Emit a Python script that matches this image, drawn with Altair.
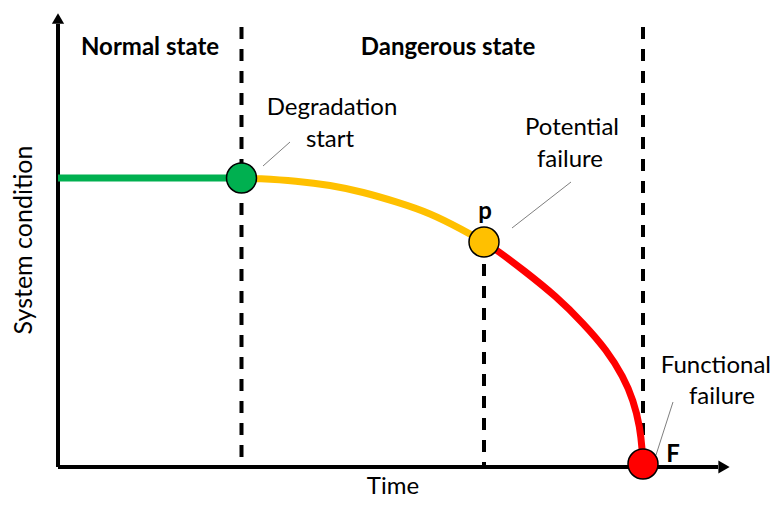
import altair as alt
import pandas as pd

# ---- data (time / condition units) ----
green_t = [0.0, 18.35]
green_c = [28.9, 28.9]
yellow_t = [18.35, 19.9, 23.9, 27.2, 30.5, 33.9, 37.2, 40.5, 42.6]
yellow_c = [28.9, 28.85, 28.6, 28.2, 27.5, 26.5, 25.4, 23.7, 22.5]
red_t = [42.6, 43.87, 46.53, 49.87, 52.53, 54.87, 56.53, 57.53, 58.2, 58.45, 58.5]
red_c = [22.5, 21.7, 19.7, 17.03, 14.37, 11.7, 9.03, 6.7, 4.03, 1.4, 0.3]

point_names = ["Degradation start", "Potential failure", "Functional failure"]
point_t = [18.35, 42.6, 58.5]
point_c = [28.9, 22.5, 0.3]

dash_t = [18.35, 42.6, 58.5]
dash_top = [44.0, 22.5, 44.0]

axis_end_t = 66.0
axis_end_c = 44.3

bold_labels = ["Normal state", "Dangerous state", "p", "F"]
bold_t = [9.2, 39.0, 42.7, 61.5]
bold_c = [41.9, 41.9, 25.5, 1.2]

reg_labels = ["Degradation", "start", "Potential", "failure", "failure"]
reg_t = [27.4, 27.2, 51.4, 51.2, 66.4]
reg_c = [35.9, 32.7, 33.9, 30.7, 7.0]

right_labels = ["Functional"]
right_t = [71.3]
right_c = [10.1]

bottom_labels = ["Time"]
bottom_t = [33.5]
bottom_c = [-2.65]

leader_t = [20.5, 45.4, 59.8]
leader_c = [30.1, 23.9, 1.2]
leader_t2 = [23.2, 51.3, 61.5]
leader_c2 = [32.5, 28.5, 6.5]

# ---- scales ----
xs = alt.Scale(domain=[-5.0, 71.4], nice=False, zero=False)
ys = alt.Scale(domain=[-3.2, 45.9], nice=False, zero=False)
FONT = "Lato"

def X(f="t"):
    return alt.X(f"{f}:Q", scale=xs, axis=None)

def Y(f="c"):
    return alt.Y(f"{f}:Q", scale=ys, axis=None)

# axes
axes_df = pd.DataFrame({"t": [0.0, 0.0], "c": [0.0, 0.0], "t2": [0.0, axis_end_t], "c2": [axis_end_c, 0.0]})
axes = alt.Chart(axes_df).mark_rule(color="black", strokeWidth=4).encode(
    x=X(), y=Y(), x2="t2:Q", y2="c2:Q")

arrow_up = alt.Chart(pd.DataFrame({"t": [0.0], "c": [44.85]})).mark_point(
    shape="triangle-up", filled=True, color="black", size=150, opacity=1).encode(x=X(), y=Y())
arrow_right = alt.Chart(pd.DataFrame({"t": [66.6], "c": [0.0]})).mark_point(
    shape="triangle-right", filled=True, color="black", size=170, opacity=1).encode(x=X(), y=Y())

# dashed verticals
dash_df = pd.DataFrame({"t": dash_t, "c": dash_top, "c2": [0.0] * len(dash_t)})
dashes = alt.Chart(dash_df).mark_rule(color="black", strokeWidth=4, strokeDash=[12, 10]).encode(
    x=X(), y=Y(), y2="c2:Q")

# curve segments
seg_df = pd.concat([
    pd.DataFrame({"t": green_t, "c": green_c, "seg": "normal"}),
    pd.DataFrame({"t": yellow_t, "c": yellow_c, "seg": "degrading"}),
    pd.DataFrame({"t": red_t, "c": red_c, "seg": "failing"}),
])
seg_scale = alt.Scale(domain=["normal", "degrading", "failing"], range=["#00B050", "#FFC000", "#FF0000"])
curves = alt.Chart(seg_df).mark_line(strokeWidth=7, interpolate="basis", strokeCap="butt").encode(
    x=X(), y=Y(), color=alt.Color("seg:N", scale=seg_scale, legend=None), detail="seg:N")

# leader lines
lead_df = pd.DataFrame({"t": leader_t, "c": leader_c, "t2": leader_t2, "c2": leader_c2})
leaders = alt.Chart(lead_df).mark_rule(color="#7f7f7f", strokeWidth=1).encode(
    x=X(), y=Y(), x2="t2:Q", y2="c2:Q")

# circles
pt_df = pd.DataFrame({"name": point_names, "t": point_t, "c": point_c})
pt_scale = alt.Scale(domain=point_names, range=["#00B050", "#FFC000", "#FF0000"])
points = alt.Chart(pt_df).mark_point(filled=True, size=900, stroke="black", strokeWidth=1.5, opacity=1).encode(
    x=X(), y=Y(), fill=alt.Fill("name:N", scale=pt_scale, legend=None))

# texts
bold_df = pd.DataFrame({"label": bold_labels, "t": bold_t, "c": bold_c})
bold_text = alt.Chart(bold_df).mark_text(font=FONT, fontSize=24, fontWeight="bold", color="black",
                                         align="center", baseline="middle").encode(
    x=X(), y=Y(), text="label:N")

reg_df = pd.DataFrame({"label": reg_labels, "t": reg_t, "c": reg_c})
reg_text = alt.Chart(reg_df).mark_text(font=FONT, fontSize=24, color="black",
                                       align="center", baseline="middle").encode(
    x=X(), y=Y(), text="label:N")

right_df = pd.DataFrame({"label": right_labels, "t": right_t, "c": right_c})
right_text = alt.Chart(right_df).mark_text(font=FONT, fontSize=24, color="black",
                                           align="right", baseline="middle").encode(
    x=X(), y=Y(), text="label:N")

bottom_df = pd.DataFrame({"label": bottom_labels, "t": bottom_t, "c": bottom_c})
bottom_text = alt.Chart(bottom_df).mark_text(font=FONT, fontSize=24, color="black",
                                             align="center", baseline="alphabetic").encode(
    x=X(), y=Y(), text="label:N")

ytitle = alt.Chart(pd.DataFrame({"label": ["System condition"], "t": [-3.4], "c": [22.7]})).mark_text(
    font=FONT, fontSize=25, color="black", align="center", baseline="middle", angle=270).encode(
    x=X(), y=Y(), text="label:N")

chart = alt.layer(axes, arrow_up, arrow_right, dashes, curves, leaders, points,
                  bold_text, reg_text, right_text, bottom_text, ytitle).properties(
    width=764, height=491, padding=0, autosize=alt.AutoSizeParams(type="none"),
    background="white"
).configure_view(stroke=None)

chart.save("out.html", embed_options={"renderer": "svg", "actions": False})
